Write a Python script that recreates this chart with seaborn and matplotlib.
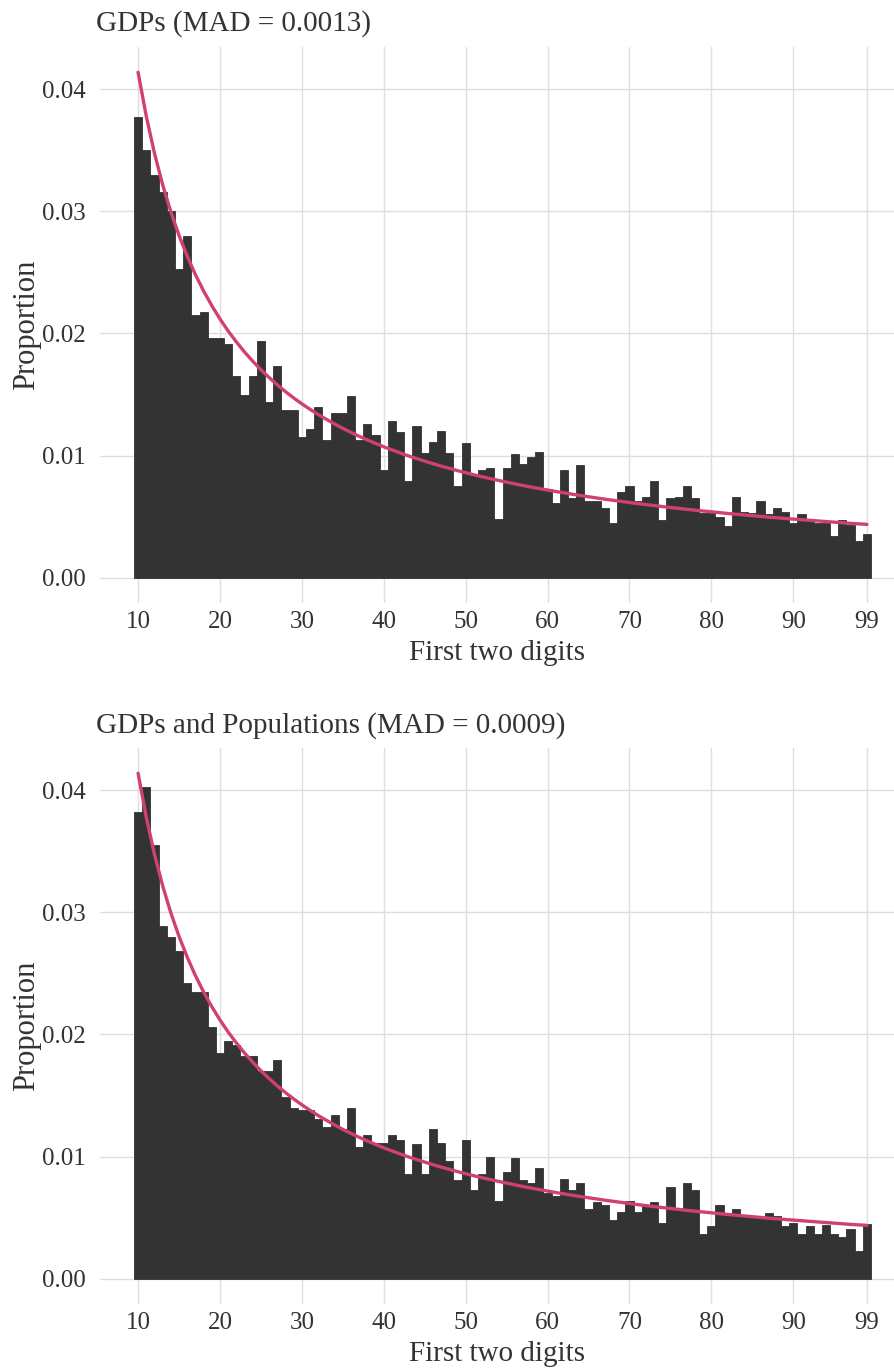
import numpy as np
import pandas as pd
import matplotlib
matplotlib.use("Agg")
import matplotlib.pyplot as plt
import seaborn as sns

# ---------------- data ----------------
digits = list(range(10, 100))

gdp_props = [
    0.0377, 0.0350, 0.0330, 0.0316, 0.0300, 0.0253, 0.0280, 0.0215, 0.0218, 0.0196,  # 10-19
    0.0196, 0.0191, 0.0165, 0.0150, 0.0165, 0.0194, 0.0144, 0.0173, 0.0137, 0.0137,  # 20-29
    0.0115, 0.0122, 0.0140, 0.0113, 0.0135, 0.0135, 0.0149, 0.0113, 0.0126, 0.0117,  # 30-39
    0.0088, 0.0128, 0.0119, 0.0079, 0.0124, 0.0102, 0.0111, 0.0120, 0.0102, 0.0075,  # 40-49
    0.0110, 0.0085, 0.0088, 0.0090, 0.0048, 0.0090, 0.0101, 0.0093, 0.0099, 0.0103,  # 50-59
    0.0073, 0.0061, 0.0088, 0.0065, 0.0092, 0.0063, 0.0063, 0.0057, 0.0045, 0.0070,  # 60-69
    0.0075, 0.0063, 0.0066, 0.0079, 0.0047, 0.0065, 0.0066, 0.0075, 0.0065, 0.0053,  # 70-79
    0.0053, 0.0050, 0.0042, 0.0066, 0.0054, 0.0053, 0.0063, 0.0052, 0.0057, 0.0054,  # 80-89
    0.0045, 0.0052, 0.0048, 0.0045, 0.0045, 0.0034, 0.0047, 0.0043, 0.0030, 0.0036,  # 90-99
]

gdp_pop_props = [
    0.0382, 0.0403, 0.0355, 0.0289, 0.0280, 0.0268, 0.0242, 0.0235, 0.0235, 0.0206,  # 10-19
    0.0185, 0.0195, 0.0191, 0.0182, 0.0182, 0.0170, 0.0170, 0.0179, 0.0149, 0.0140,  # 20-29
    0.0138, 0.0138, 0.0131, 0.0124, 0.0134, 0.0123, 0.0140, 0.0108, 0.0118, 0.0111,  # 30-39
    0.0111, 0.0118, 0.0114, 0.0086, 0.0110, 0.0086, 0.0123, 0.0111, 0.0096, 0.0081,  # 40-49
    0.0114, 0.0073, 0.0086, 0.0100, 0.0064, 0.0087, 0.0099, 0.0081, 0.0078, 0.0091,  # 50-59
    0.0070, 0.0068, 0.0082, 0.0073, 0.0078, 0.0057, 0.0063, 0.0060, 0.0048, 0.0055,  # 60-69
    0.0064, 0.0055, 0.0060, 0.0063, 0.0046, 0.0075, 0.0058, 0.0078, 0.0073, 0.0037,  # 70-79
    0.0043, 0.0060, 0.0054, 0.0057, 0.0051, 0.0051, 0.0050, 0.0054, 0.0051, 0.0043,  # 80-89
    0.0046, 0.0037, 0.0043, 0.0037, 0.0044, 0.0037, 0.0034, 0.0041, 0.0023, 0.0045,  # 90-99
]

# Benford expected proportions for first two digits 10..99
benford_expected = [
    0.04139, 0.03779, 0.03476, 0.03218, 0.02996, 0.02803, 0.02633, 0.02482, 0.02348, 0.02228,
    0.02119, 0.02020, 0.01931, 0.01848, 0.01773, 0.01703, 0.01639, 0.01579, 0.01524, 0.01472,
    0.01424, 0.01379, 0.01336, 0.01297, 0.01259, 0.01223, 0.01190, 0.01158, 0.01128, 0.01100,
    0.01072, 0.01047, 0.01022, 0.00998, 0.00976, 0.00955, 0.00934, 0.00914, 0.00896, 0.00877,
    0.00860, 0.00843, 0.00827, 0.00812, 0.00797, 0.00783, 0.00769, 0.00755, 0.00742, 0.00730,
    0.00718, 0.00706, 0.00695, 0.00684, 0.00673, 0.00663, 0.00653, 0.00643, 0.00634, 0.00625,
    0.00616, 0.00607, 0.00599, 0.00591, 0.00583, 0.00575, 0.00568, 0.00560, 0.00553, 0.00546,
    0.00540, 0.00533, 0.00526, 0.00520, 0.00514, 0.00508, 0.00502, 0.00496, 0.00491, 0.00485,
    0.00480, 0.00475, 0.00470, 0.00465, 0.00460, 0.00455, 0.00450, 0.00445, 0.00441, 0.00437,
]

titles = ["GDPs (MAD = 0.0013)", "GDPs and Populations (MAD = 0.0009)"]
x_ticks = [10, 20, 30, 40, 50, 60, 70, 80, 90, 99]
y_ticks = [0.00, 0.01, 0.02, 0.03, 0.04]
x_label = "First two digits"
y_label = "Proportion"

# ---------------- style ----------------
sns.set_theme(style="whitegrid")
plt.rcParams["font.family"] = ["Liberation Serif", "DejaVu Serif"]
text_color = "#333333"
bar_color = "#333333"
line_color = "#D1416F"
grid_color = "#DEDEDE"

W, H = 894, 1370
fig = plt.figure(figsize=(W / 100, H / 100), dpi=100)
fig.patch.set_facecolor("white")

def px_axes(left, top, right, bottom):
    return fig.add_axes([left / W, 1 - bottom / H, (right - left) / W, (bottom - top) / H])

panels = [
    (gdp_props, titles[0], (100, 47, 894, 603), 31),
    (gdp_pop_props, titles[1], (100, 748, 894, 1304), 733),
]

for vals, title, box, title_y in panels:
    ax = px_axes(*box)
    df = pd.DataFrame({"digit": digits, "prop": vals, "benford": benford_expected})
    sns.barplot(data=df, x="digit", y="prop", native_scale=True, width=1.0,
                color=bar_color, saturation=1, errorbar=None,
                linewidth=0.6, edgecolor=bar_color, ax=ax, zorder=2)
    sns.lineplot(data=df, x="digit", y="benford", color=line_color,
                 linewidth=2.4, ax=ax, zorder=3)
    ax.set_xlim(5.35, 102.3)
    ax.set_ylim(-0.00207, 0.04346)
    ax.set_xticks(x_ticks)
    ax.set_xticklabels([str(t) for t in x_ticks])
    ax.set_yticks(y_ticks)
    ax.set_yticklabels([f"{t:.2f}" for t in y_ticks])
    ax.set_facecolor("white")
    for s in ax.spines.values():
        s.set_visible(False)
    ax.grid(True, color=grid_color, linewidth=1.0)
    ax.set_axisbelow(True)
    ax.tick_params(axis="x", length=0, pad=6, labelsize=18, colors=text_color)
    ax.tick_params(axis="y", length=0, pad=10, labelsize=18, colors=text_color)
    ax.set_xlabel(x_label, fontsize=21, color=text_color, labelpad=5)
    ax.set_ylabel(y_label, fontsize=22, color=text_color, labelpad=1)
    fig.text(96 / W, 1 - title_y / H, title, fontsize=21, color=text_color,
             ha="left", va="baseline")

fig.savefig("out.png", dpi=100, facecolor="white")
